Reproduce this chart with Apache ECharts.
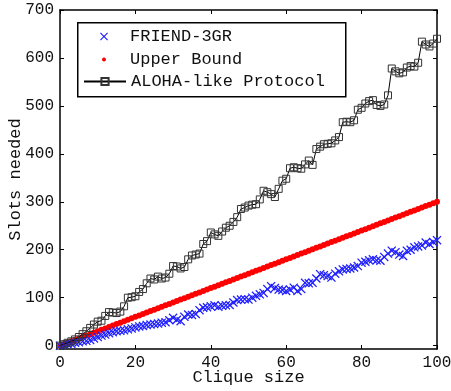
<!DOCTYPE html>
<html>
<head>
<meta charset="utf-8">
<script src="https://cdn.jsdelivr.net/npm/echarts@6/dist/echarts.min.js"></script>
<style>
  html, body { margin: 0; padding: 0; background: #fff; }
  #chart { width: 451px; height: 391px; }
</style>
</head>
<body>
<div id="chart"></div>
<script>
// clique size on the x axis, one point per size
const cliqueSizes = [
  0, 1, 2, 3, 4, 5, 6, 7, 8, 9, 10, 11, 12, 13, 14, 15, 16, 17, 18, 19,
  20, 21, 22, 23, 24, 25, 26, 27, 28, 29, 30, 31, 32, 33, 34, 35, 36, 37, 38, 39,
  40, 41, 42, 43, 44, 45, 46, 47, 48, 49, 50, 51, 52, 53, 54, 55, 56, 57, 58, 59,
  60, 61, 62, 63, 64, 65, 66, 67, 68, 69, 70, 71, 72, 73, 74, 75, 76, 77, 78, 79,
  80, 81, 82, 83, 84, 85, 86, 87, 88, 89, 90, 91, 92, 93, 94, 95, 96, 97, 98, 99, 100
];

const friend3gr = [
  0, 2, 3, 4, 6, 7, 9, 10, 12, 15,
  18, 21, 23, 26, 28, 30, 31, 32, 34, 36,
  38, 40, 41, 43, 44, 45, 46, 48, 49, 53,
  58, 54, 51, 60, 65, 64, 66, 74, 79, 80,
  82, 84, 81, 83, 84, 85, 90, 95, 96, 97,
  96, 100, 104, 107, 110, 118, 124, 120, 117, 116,
  114, 117, 121, 114, 118, 131, 130, 131, 140, 149,
  147, 145, 142, 150, 155, 159, 160, 161, 163, 166,
  173, 175, 178, 180, 178, 177, 185, 192, 198, 195,
  190, 187, 198, 200, 205, 207, 209, 215, 212, 216,
  220
];

const upperBound = [
  0, 3, 6, 9, 12, 15, 18, 21, 24, 27,
  30, 33, 36, 39, 42, 45, 48, 51, 54, 57,
  60, 63, 66, 69, 72, 75, 78, 81, 84, 87,
  90, 93, 96, 99, 102, 105, 108, 111, 114, 117,
  120, 123, 126, 129, 132, 135, 138, 141, 144, 147,
  150, 153, 156, 159, 162, 165, 168, 171, 174, 177,
  180, 183, 186, 189, 192, 195, 198, 201, 204, 207,
  210, 213, 216, 219, 222, 225, 228, 231, 234, 237,
  240, 243, 246, 249, 252, 255, 258, 261, 264, 267,
  270, 273, 276, 279, 282, 285, 288, 291, 294, 297,
  300
];

const aloha = [
  0, 3, 6, 9, 13, 18, 24, 30, 37, 44,
  50, 52, 62, 70, 69, 68, 71, 82, 100, 101,
  103, 112, 118, 130, 140, 138, 144, 140, 142, 150,
  166, 165, 161, 164, 180, 188, 190, 192, 212, 218,
  236, 232, 229, 238, 246, 250, 258, 268, 285, 288,
  292, 294, 295, 305, 323, 320, 316, 310, 327, 344,
  348, 370, 372, 370, 369, 378, 386, 377, 410, 415,
  420, 421, 422, 428, 435, 466, 467, 466, 470, 492,
  496, 505, 510, 512, 502, 500, 503, 522, 578, 572,
  568, 570, 580, 583, 582, 590, 634, 628, 624, 630,
  640
];

const yTicks = [0, 100, 200, 300, 400, 500, 600, 700];

const FONT = "'Liberation Mono', 'DejaVu Sans Mono', monospace";
const crossPath = "path://M0,1L1,0L5,4L9,0L10,1L6,5L10,9L9,10L5,6L1,10L0,9L4,5Z";
const toPairs = (ys) => ys.map((y, i) => [cliqueSizes[i], y]);

const chart = echarts.init(document.getElementById("chart"));

const axisLine = { show: true, onZero: false, lineStyle: { color: "#000", width: 1.5 } };
const tick = { show: true, inside: true, length: 4, lineStyle: { color: "#000", width: 1 } };
const label = { fontFamily: FONT, fontSize: 16, color: "#111" };
const legendText = { fontFamily: FONT, fontSize: 17, color: "#111" };

const legendBase = {
  orient: "vertical",
  left: 83,
  padding: 0,
  itemWidth: 42,
  selectedMode: false,
  textStyle: legendText,
  z: 10,
};

const option = {
  animation: false,
  backgroundColor: "#fff",
  grid: { left: 60, right: 14, top: 10, bottom: 42, outerBoundsMode: "none" },
  xAxis: [
    {
      type: "value",
      min: 0,
      max: 100,
      interval: 20,
      position: "bottom",
      axisLine,
      axisTick: tick,
      splitLine: { show: false },
      axisLabel: { ...label, margin: 6 },
      name: "Clique size",
      nameLocation: "middle",
      nameGap: 20,
      nameMoveOverlap: false,
      nameTextStyle: legendText,
    },
    {
      type: "value",
      min: 0,
      max: 100,
      interval: 20,
      position: "top",
      axisLine,
      axisTick: tick,
      splitLine: { show: false },
      axisLabel: { show: false },
    },
  ],
  yAxis: [
    {
      type: "value",
      min: -7,
      max: 700,
      position: "left",
      axisLine,
      axisTick: { ...tick, customValues: yTicks },
      splitLine: { show: false },
      axisLabel: { ...label, margin: 6, customValues: yTicks },
      name: "Slots needed",
      nameLocation: "middle",
      nameRotate: 90,
      nameGap: 36,
      nameMoveOverlap: false,
      nameTextStyle: legendText,
    },
    {
      type: "value",
      min: -7,
      max: 700,
      position: "right",
      axisLine,
      axisTick: { ...tick, customValues: yTicks },
      splitLine: { show: false },
      axisLabel: { show: false },
    },
  ],
  graphic: [
    {
      type: "rect",
      left: 77,
      top: 22,
      z: 9,
      shape: { width: 268, height: 74 },
      style: { fill: "#fff", stroke: "#000", lineWidth: 1.5 },
    },
  ],
  legend: [
    { ...legendBase, top: 28, itemHeight: 10, data: ["FRIEND-3GR"] },
    { ...legendBase, top: 51, itemHeight: 5, data: ["Upper Bound"] },
    { ...legendBase, top: 73, itemHeight: 9, data: ["ALOHA-like Protocol"] },
  ],
  series: [
    {
      name: "Upper Bound",
      type: "line",
      data: toPairs(upperBound),
      symbol: "circle",
      symbolSize: 6,
      showAllSymbol: true,
      lineStyle: { width: 0, opacity: 0 },
      itemStyle: { color: "#ff0000" },
      emphasis: { disabled: true },
      z: 2,
    },
    {
      name: "FRIEND-3GR",
      type: "line",
      data: toPairs(friend3gr),
      symbol: crossPath,
      symbolSize: 9,
      showAllSymbol: true,
      lineStyle: { width: 0, opacity: 0 },
      itemStyle: { color: "#1f1fff" },
      emphasis: { disabled: true },
      z: 3,
    },
    {
      name: "ALOHA-like Protocol",
      type: "line",
      data: toPairs(aloha),
      symbol: "rect",
      symbolSize: 7,
      showAllSymbol: true,
      lineStyle: { color: "#000", width: 1 },
      itemStyle: { color: "rgba(0,0,0,0)", borderColor: "#333", borderWidth: 1 },
      emphasis: { disabled: true },
      z: 4,
    },
  ],
};

chart.setOption(option);
</script>
</body>
</html>
